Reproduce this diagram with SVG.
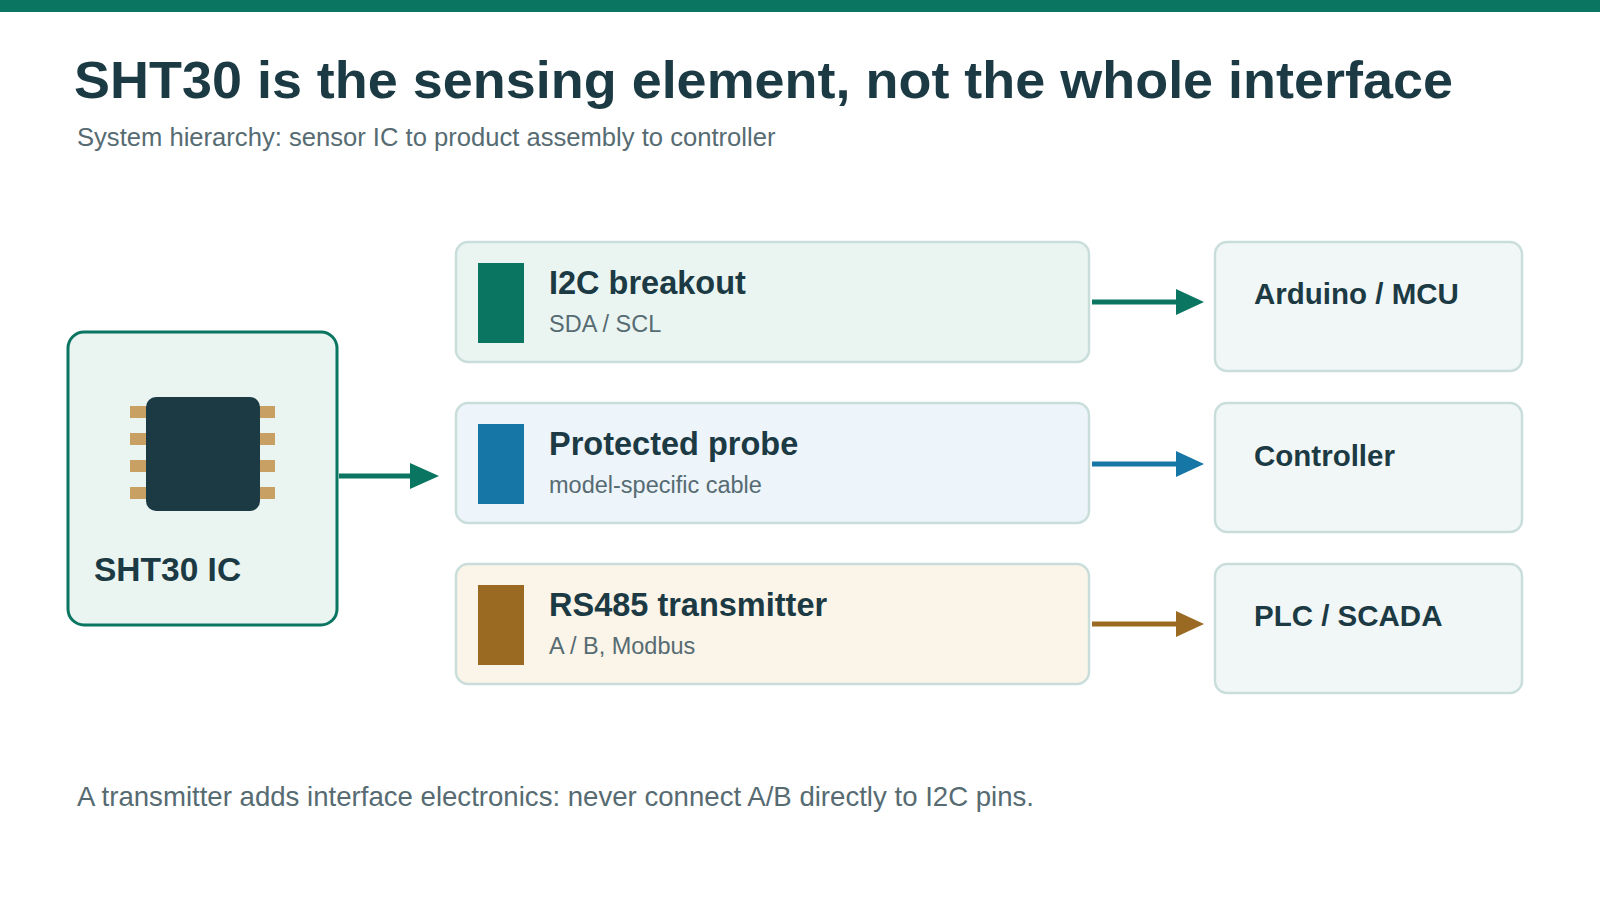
<svg xmlns="http://www.w3.org/2000/svg" width="1600" height="900" viewBox="0 0 1600 900">
<style>
text{font-family:"Liberation Sans",Arial,sans-serif}
.t{font-weight:bold;fill:#1c3a44}
.s{fill:#566b72}
.mid{stroke:#c9dedb;stroke-width:2.5}
.pin{fill:#c9a064}
</style>
<rect width="1600" height="12" fill="#0a7560"/>
<text class="t" x="74" y="98" font-size="52" textLength="1379" lengthAdjust="spacingAndGlyphs">SHT30 is the sensing element, not the whole interface</text>
<text class="s" x="77" y="146" font-size="25.6">System hierarchy: sensor IC to product assembly to controller</text>
<g id="sht30">
<rect x="68" y="332" width="269" height="293" rx="16" fill="#eaf4f1" stroke="#0a7560" stroke-width="3"/>
<rect class="pin" x="130" y="406" width="17" height="12"/><rect class="pin" x="130" y="433" width="17" height="12"/><rect class="pin" x="130" y="460" width="17" height="12"/><rect class="pin" x="130" y="487" width="17" height="12"/>
<rect class="pin" x="258" y="406" width="17" height="12"/><rect class="pin" x="258" y="433" width="17" height="12"/><rect class="pin" x="258" y="460" width="17" height="12"/><rect class="pin" x="258" y="487" width="17" height="12"/>
<rect x="146" y="397" width="114" height="114" rx="10" fill="#1c3a44"/>
<text class="t" x="94" y="581" font-size="33.5">SHT30 IC</text>
</g>
<g id="i2c">
<rect class="mid" x="456" y="242" width="633" height="120" rx="12" fill="#eaf5f2"/>
<rect x="478" y="263" width="46" height="80" fill="#0a7560"/>
<text class="t" x="549" y="294" font-size="32.5">I2C breakout</text>
<text class="s" x="549" y="332" font-size="23.5">SDA / SCL</text>
</g>
<g id="probe">
<rect class="mid" x="456" y="403" width="633" height="120" rx="12" fill="#edf4fa"/>
<rect x="478" y="424" width="46" height="80" fill="#1677a6"/>
<text class="t" x="549" y="455" font-size="32.5">Protected probe</text>
<text class="s" x="549" y="493" font-size="23.5">model-specific cable</text>
</g>
<g id="rs485">
<rect class="mid" x="456" y="564" width="633" height="120" rx="12" fill="#fbf4e8"/>
<rect x="478" y="585" width="46" height="80" fill="#9a6a22"/>
<text class="t" x="549" y="616" font-size="32.5">RS485 transmitter</text>
<text class="s" x="549" y="654" font-size="23.5">A / B, Modbus</text>
</g>
<g id="mcu"><rect class="mid" x="1215" y="242" width="307" height="129" rx="12" fill="#f0f7f6"/><text class="t" x="1254" y="304" font-size="29.5">Arduino / MCU</text></g>
<g id="ctrl"><rect class="mid" x="1215" y="403" width="307" height="129" rx="12" fill="#f0f7f6"/><text class="t" x="1254" y="466" font-size="29.5">Controller</text></g>
<g id="plc"><rect class="mid" x="1215" y="564" width="307" height="129" rx="12" fill="#f0f7f6"/><text class="t" x="1254" y="626" font-size="29.5">PLC / SCADA</text></g>
<g id="connectors" stroke-width="5">
<line x1="339" y1="476" x2="413" y2="476" stroke="#0a7560"/><path d="M410,463L439,476L410,489z" fill="#0a7560"/>
<line x1="1092" y1="302" x2="1180" y2="302" stroke="#0a7560"/><path d="M1176,289L1204,302L1176,315z" fill="#0a7560"/>
<line x1="1092" y1="464" x2="1180" y2="464" stroke="#1677a6"/><path d="M1176,451L1204,464L1176,477z" fill="#1677a6"/>
<line x1="1092" y1="624" x2="1180" y2="624" stroke="#9a6a22"/><path d="M1176,611L1204,624L1176,637z" fill="#9a6a22"/>
</g>
<text class="s" x="77" y="806" font-size="27.6">A transmitter adds interface electronics: never connect A/B directly to I2C pins.</text>
</svg>
